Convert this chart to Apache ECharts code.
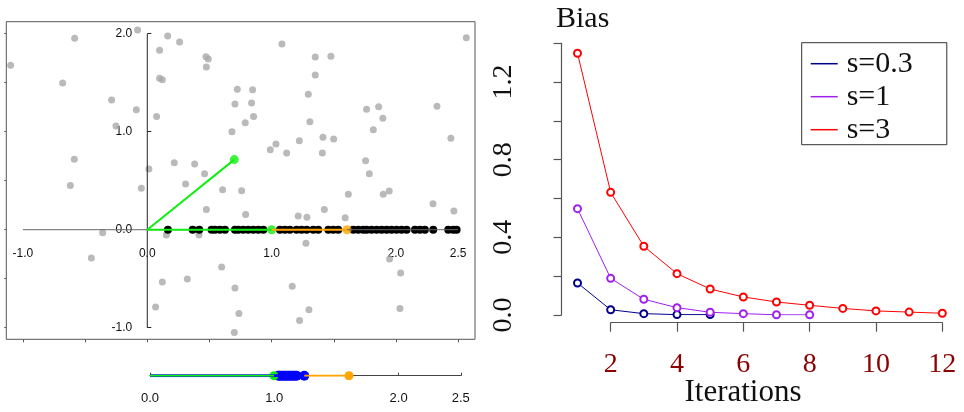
<!DOCTYPE html>
<html><head><meta charset="utf-8">
<script src="https://cdn.jsdelivr.net/npm/echarts@6/dist/echarts.min.js"></script>
<style>html,body{margin:0;padding:0;background:#fff}#c{width:964px;height:412px}</style>
</head><body><div id="c"></div>
<script>
// ---- left panel: scattered (gray) points ----
const grayPoints = [
  [-1.099,1.677],[-0.584,1.952],[-0.681,1.497],[-0.287,1.323],[-0.088,1.224],[-0.252,1.058],
  [-0.078,2.037],[-0.587,0.718],[-0.619,0.452],[0.013,0.619],[-0.048,0.422],[-0.359,-0.031],
  [-0.450,-0.289],[0.164,1.976],[0.260,1.915],[0.099,1.830],[0.099,1.544],[0.121,1.531],
  [0.075,1.156],[0.472,1.765],[0.491,1.741],[0.475,1.660],[0.724,1.432],[0.847,1.429],
  [0.705,1.282],[0.839,1.293],[0.855,1.156],[0.788,1.092],[0.681,1.000],[0.217,0.684],
  [0.381,0.670],[0.461,0.571],[0.308,0.466],[0.606,0.408],[0.759,0.398],[0.475,0.207],
  [0.791,0.156],[1.083,1.895],[1.351,1.762],[1.477,1.769],[1.351,1.578],[1.295,1.381],
  [1.308,1.102],[1.413,0.942],[1.499,0.925],[1.223,0.908],[1.035,0.874],[0.989,0.816],
  [1.121,0.782],[1.408,0.782],[1.424,0.207],[1.214,0.139],[1.284,0.126],[1.592,0.122],
  [1.617,0.361],[1.756,0.704],[1.786,0.571],[1.764,1.228],[1.861,1.255],[1.895,1.136],
  [1.818,1.020],[1.898,0.361],[1.946,0.395],[2.330,1.259],[2.442,0.932],[2.566,1.959],
  [2.298,0.265],[2.466,0.190],[0.153,-0.054],[0.416,-0.054],[1.276,-0.139],[0.598,-0.381],
  [0.121,-0.534],[0.322,-0.503],[0.705,-0.595],[1.166,-0.578],[0.067,-0.789],[0.737,-0.854],
  [1.300,-0.816],[1.225,-0.925],[0.700,-1.048],[1.949,-0.299],[2.038,-0.442],[2.032,-0.803]
];
// black points lying on the horizontal axis (x values)
const axisPointsX = [0.166,0.365,0.418,0.517,0.544,0.584,0.625,0.705,0.732,0.772,0.812,0.853,0.893,0.933,
  1.067,1.107,1.147,1.201,1.241,1.282,1.335,1.375,1.456,1.496,1.536,1.657,1.697,1.737,1.764,1.804,
  1.845,1.885,1.925,1.965,2.005,2.046,2.086,2.153,2.193,2.233,2.300,2.421,2.461,2.488];
const origin = [0, 0];
const greenPoints = [[1.0, 0], [0.70, 0.715]];
const orangePoint = [1.607, 0];
const leftXTicks = [-1, 0, 1, 2, 2.5];
const leftYTicks = [-1, 0, 1, 2];
const leftYTickMarks = [-1, 1, 2];
const frameXTicks = [-1, -0.5, 0, 0.5, 1, 1.5, 2, 2.5];
const frameYTicks = [-1, -0.5, 0, 0.5, 1, 1.5, 2];
const axisSpanX = [-1, 2.5];
const axisSpanY = [-1, 2];
const leftRangeX = [-1.134, 2.636];
const leftRangeY = [-1.118, 2.122];

// ---- strip below ----
const stripTicks = [0, 1, 2, 2.5];
const stripBlueX = [1.032, 1.045, 1.06, 1.075, 1.09, 1.105, 1.12, 1.135, 1.15, 1.165, 1.18, 1.241];
const stripGreenX = 0.997;
const stripOrangeX = 1.601;

// ---- right panel: Bias vs Iterations ----
const iterations = [1,2,3,4,5,6,7,8,9,10,11,12];
const biasS03 = [0.165, 0.027, 0.007, 0.002, 0.002];
const biasS1  = [0.548, 0.189, 0.081, 0.038, 0.014, 0.007, 0.001, 0.001];
const biasS3  = [1.349, 0.632, 0.354, 0.213, 0.134, 0.093, 0.067, 0.050, 0.034, 0.021, 0.015, 0.009];
const biasYLabels = [0, 0.4, 0.8, 1.2];
const seriesNames = ['s=0.3', 's=1', 's=3'];
const seriesColors = ['#00008b', '#a020f0', '#ff0000'];

const sans = 'Liberation Sans, Arial, sans-serif';
const serif = 'Liberation Serif, Times New Roman, serif';
const fmt1 = v => Number(v).toFixed(1);

// layout of the left frame; the inner (origin) axes are placed where x=0 / y=0 fall in it
const frame = {left: 6.3, top: 21.7, width: 468.7, height: 317.6};
const zeroPx = frame.left + frame.width * (0 - leftRangeX[0]) / (leftRangeX[1] - leftRangeX[0]);
const zeroPy = frame.top + frame.height * (leftRangeY[1] - 0) / (leftRangeY[1] - leftRangeY[0]);

const chart = echarts.init(document.getElementById('c'), null, {renderer: 'canvas'});
const biasData = [biasS03, biasS1, biasS3];
const gridBase = {outerBoundsMode: 'none', containLabel: false};

const option = {
  animation: false,
  backgroundColor: '#fff',
  title: [
    {text: 'Bias', left: 551, top: -1,
      textStyle: {fontFamily: serif, fontSize: 30, fontWeight: 'normal', color: '#111'}}
  ],
  graphic: [
    {type: 'text', x: 743, y: 393, silent: true,
      style: {text: 'Iterations', fontFamily: serif, fontSize: 31, fill: '#111', align: 'center', verticalAlign: 'middle'}}
  ],
  legend: {
    orient: 'vertical', left: 801.7, top: 42.7,
    padding: [6, 34, 0, 9],
    itemGap: 3,
    itemWidth: 27, itemHeight: 1.5,
    borderColor: '#333', borderWidth: 1,
    textStyle: {fontFamily: serif, fontSize: 30, color: '#111', lineHeight: 30, padding: [0, 0, 0, 4]},
    data: seriesNames.map(n => ({name: n, icon: 'rect'}))
  },
  grid: [
    Object.assign({left: frame.left, top: frame.top, width: frame.width, height: frame.height, show: true,
      borderColor: '#555', borderWidth: 1, backgroundColor: '#fff'}, gridBase),
    Object.assign({left: 150, top: 360, width: 310.75, height: 15.7}, gridBase),
    Object.assign({left: 577.5, top: 43.3, width: 364.8, height: 271.7}, gridBase),
    Object.assign({left: 610.7, top: 300, width: 331.6, height: 22.7}, gridBase),
    Object.assign({left: frame.left, top: frame.top, width: frame.width, height: zeroPy - frame.top}, gridBase),
    Object.assign({left: zeroPx, top: frame.top, width: frame.left + frame.width - zeroPx, height: frame.height}, gridBase)
  ],
  xAxis: [
    {gridIndex: 0, type: 'value', min: leftRangeX[0], max: leftRangeX[1], position: 'bottom',
      axisLine: {show: false, onZero: false}, splitLine: {show: false},
      axisTick: {show: true, customValues: frameXTicks, length: 3, lineStyle: {color: '#555'}},
      axisLabel: {show: false}},
    {gridIndex: 1, type: 'value', min: 0, max: 2.5, position: 'bottom',
      axisLine: {show: true, onZero: false, lineStyle: {color: '#444', width: 1}}, splitLine: {show: false},
      axisTick: {show: true, inside: true, length: 3, customValues: stripTicks, lineStyle: {color: '#444'}},
      axisLabel: {customValues: stripTicks, formatter: fmt1, margin: 16, fontFamily: sans, fontSize: 13, color: '#111'}},
    {gridIndex: 2, type: 'value', min: 1, max: 12, show: false},
    {gridIndex: 3, type: 'value', min: 2, max: 12, interval: 2, position: 'bottom',
      axisLine: {show: true, onZero: false, lineStyle: {color: '#555', width: 1.2}}, splitLine: {show: false},
      axisTick: {show: true, length: 9, lineStyle: {color: '#555', width: 1.2}},
      axisLabel: {margin: 28, fontFamily: serif, fontSize: 28, color: '#8b0000'}},
    {gridIndex: 4, type: 'value', min: leftRangeX[0], max: leftRangeX[1], position: 'bottom',
      axisLine: {show: false, onZero: false}, splitLine: {show: false}, axisTick: {show: false},
      axisLabel: {customValues: leftXTicks, formatter: fmt1, margin: 18, fontFamily: sans, fontSize: 12, color: '#111'}},
    {gridIndex: 5, type: 'value', min: 0, max: leftRangeX[1], show: false}
  ],
  yAxis: [
    {gridIndex: 0, type: 'value', min: leftRangeY[0], max: leftRangeY[1], position: 'left',
      axisLine: {show: false, onZero: false}, splitLine: {show: false},
      axisTick: {show: true, customValues: frameYTicks, length: 2, lineStyle: {color: '#555'}},
      axisLabel: {show: false}},
    {gridIndex: 1, type: 'value', min: 0, max: 1, show: false},
    {gridIndex: 2, type: 'value', min: 0, max: 1.4, interval: 0.2, position: 'left', offset: 16,
      axisLine: {show: true, onZero: false, lineStyle: {color: '#555', width: 1.2}}, splitLine: {show: false},
      axisTick: {show: true, length: 8, lineStyle: {color: '#555', width: 1.2}},
      axisLabel: {customValues: biasYLabels, rotate: 90, formatter: fmt1, margin: 44, fontFamily: serif, fontSize: 28, color: '#111'}},
    {gridIndex: 3, type: 'value', min: 0, max: 1, show: false},
    {gridIndex: 4, type: 'value', min: 0, max: leftRangeY[1], show: false},
    {gridIndex: 5, type: 'value', min: leftRangeY[0], max: leftRangeY[1], position: 'left',
      axisLine: {show: false, onZero: false}, splitLine: {show: false},
      axisTick: {show: true, inside: true, length: 4, customValues: leftYTickMarks, lineStyle: {color: '#222'}},
      axisLabel: {customValues: leftYTicks, formatter: fmt1, margin: 15, fontFamily: sans, fontSize: 12, color: '#111'}}
  ],
  series: [
    {type: 'scatter', xAxisIndex: 0, yAxisIndex: 0, data: grayPoints, symbolSize: 7,
      itemStyle: {color: '#a9a9a9'}, silent: true},
    {type: 'line', xAxisIndex: 0, yAxisIndex: 0, data: axisSpanX.map(x => [x, 0]), symbol: 'none',
      lineStyle: {color: '#666', width: 1}, silent: true},
    {type: 'line', xAxisIndex: 0, yAxisIndex: 0, data: axisSpanY.map(y => [0, y]), symbol: 'none',
      lineStyle: {color: '#222', width: 1}, silent: true},
    {type: 'scatter', xAxisIndex: 0, yAxisIndex: 0, data: axisPointsX.map(x => [x, 0]), symbolSize: 8,
      itemStyle: {color: '#000', opacity: 1}, silent: true},
    {type: 'line', xAxisIndex: 0, yAxisIndex: 0, data: [greenPoints[1], origin, greenPoints[0]], symbol: 'none',
      lineStyle: {color: '#11ee11', width: 2}, silent: true},
    {type: 'line', xAxisIndex: 0, yAxisIndex: 0, data: [greenPoints[0], orangePoint], symbol: 'none',
      lineStyle: {color: '#ffa500', width: 2}, silent: true},
    {type: 'scatter', xAxisIndex: 0, yAxisIndex: 0, data: greenPoints, symbolSize: 9,
      itemStyle: {color: '#11ee11'}, silent: true},
    {type: 'scatter', xAxisIndex: 0, yAxisIndex: 0, data: [orangePoint], symbolSize: 9,
      itemStyle: {color: '#ffa500'}, silent: true},
    // strip
    {type: 'line', xAxisIndex: 1, yAxisIndex: 1, data: [[0, 0], [stripBlueX[stripBlueX.length - 1], 0]], symbol: 'none',
      lineStyle: {color: '#0000ff', width: 3}, silent: true},
    {type: 'line', xAxisIndex: 1, yAxisIndex: 1, data: [[0, 0], [stripGreenX, 0]], symbol: 'none',
      lineStyle: {color: '#11ee11', width: 2}, silent: true},
    {type: 'line', xAxisIndex: 1, yAxisIndex: 1, data: [[stripBlueX[stripBlueX.length - 1], 0], [stripOrangeX, 0]], symbol: 'none',
      lineStyle: {color: '#ffa500', width: 2}, silent: true},
    {type: 'scatter', xAxisIndex: 1, yAxisIndex: 1, data: stripBlueX.map(x => [x, 0]), symbolSize: 10,
      itemStyle: {color: '#0000ff', opacity: 1}, silent: true},
    {type: 'scatter', xAxisIndex: 1, yAxisIndex: 1, data: [[stripGreenX, 0]], symbolSize: 9,
      itemStyle: {color: '#11ee11', opacity: 1}, silent: true},
    {type: 'scatter', xAxisIndex: 1, yAxisIndex: 1, data: [[stripOrangeX, 0]], symbolSize: 9,
      itemStyle: {color: '#ffa500', opacity: 1}, silent: true}
  ].concat(seriesNames.map((n, i) => ({
    name: n, type: 'line', xAxisIndex: 2, yAxisIndex: 2,
    data: biasData[i].map((v, k) => [iterations[k], v]),
    symbol: 'emptyCircle', symbolSize: 7, showSymbol: true,
    lineStyle: {color: seriesColors[i], width: 1},
    itemStyle: {color: seriesColors[i], borderWidth: 1},
    silent: true
  })))
};
chart.setOption(option);
</script>
</body></html>
